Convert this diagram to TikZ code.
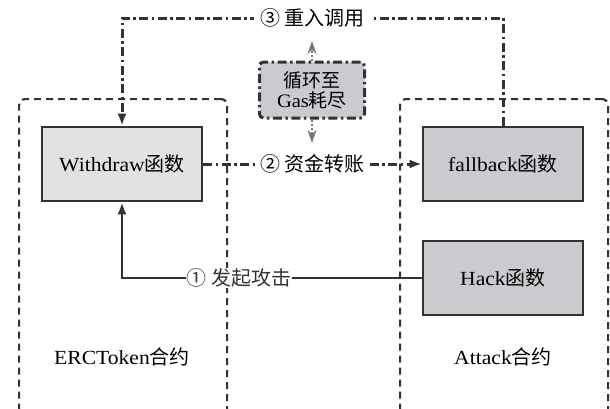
\documentclass[tikz,border=0pt]{standalone}
\usepackage{fontspec}
\setmainfont{Liberation Serif}[FakeStretch=1.08]
\newfontfamily\cjk{Noto Sans CJK SC}
\usetikzlibrary{arrows.meta}
\definecolor{lightfill}{HTML}{E2E2E4}
\definecolor{darkfill}{HTML}{CBCBCF}
\definecolor{edge}{HTML}{333333}
\definecolor{ghost}{HTML}{7A7A7A}
\begin{document}
\begin{tikzpicture}[x=1pt,y=-1pt,
  font=\fontsize{20}{25}\selectfont,
  fnbox/.style={draw=edge, line width=2.6pt, minimum width=160pt, minimum height=74pt, inner sep=0pt},
  container/.style={draw=edge, line width=2.2pt, dash pattern=on 7pt off 5pt, rounded corners=6pt, minimum width=208pt, minimum height=340pt, anchor=north west},
  dd/.style={draw=edge, line width=3pt, dash pattern=on 9pt off 3.5pt on 2.5pt off 3.5pt},
  lbl/.style={fill=white, inner sep=2pt},
  tip/.style={-{Latex[length=12pt,width=9pt]}},
  gtip/.style={-{Stealth[length=13pt,width=9pt]}}
]
\useasboundingbox (0,0) rectangle (610,408);
\fill[white] (0,0) rectangle (610,408);

% containers
\node[container] (ercbox) at (18,98) {};
\node[container] (attbox) at (399,98) {};
\node (erclbl) at (122,357) {ERCToken\cjk{合约}};
\node (attlbl) at (503,357) {Attack\cjk{合约}};

% function boxes
\node[fnbox, fill=lightfill] (wd) at (122,164) {Withdraw\cjk{函数}};
\node[fnbox, fill=darkfill] (fb) at (503,164) {fallback\cjk{函数}};
\node[fnbox, fill=darkfill] (hk) at (503,278) {Hack\cjk{函数}};

% loop box
\node[dd, fill=darkfill, rounded corners=4pt, minimum width=105pt, minimum height=56pt, align=center, inner sep=0pt, font=\fontsize{19}{20}\selectfont] (loop) at (312,90) {\cjk{循环至}\\Gas\cjk{耗尽}};

% (3) reentrant call
\coordinate (tr) at (503,18);
\coordinate (tl) at (122,18);
\draw[dd, tip] (fb.north) -- (tr) -- node[lbl, inner xsep=6pt] {\cjk{③ 重入调用}} (tl) -- (wd.north);

% (2) transfer
\draw[dd, tip] (wd.east) -- node[lbl, inner xsep=4pt] {\cjk{② 资金转账}} (fb.west);

% (1) attack
\coordinate (bl) at (122,278);
\draw[edge, line width=2.4pt, tip] (hk.west) -- node[lbl, pos=0.61, inner sep=1pt] {\cjk{① 发起攻击}} (bl) -- (wd.south);

% gray arrows
\coordinate (gup) at (312,41);
\coordinate (gdn) at (312,143);
\draw[ghost, line width=2.6pt, dash pattern=on 2pt off 2pt, gtip] (loop.north) -- (gup);
\draw[ghost, line width=2.6pt, dash pattern=on 2pt off 2pt, gtip] (loop.south) -- (gdn);
\end{tikzpicture}
\end{document}
